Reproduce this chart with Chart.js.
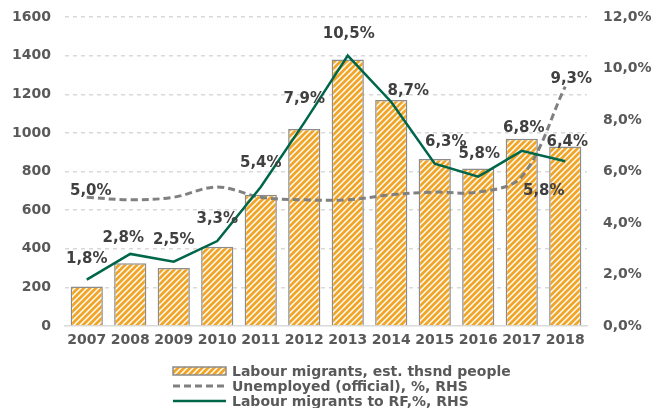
<!DOCTYPE html>
<html>
<head>
    <title>Labour migration</title>
    <script src="https://cdn.jsdelivr.net/npm/chart.js@4.4.1/dist/chart.umd.min.js"></script>
    <style>
        html, body { margin: 0; padding: 0; background: #fff; }
        .wrap { width: 666px; height: 408px; }
    </style>
</head>
<body>
    <div class="wrap"><canvas id="migrants"></canvas></div>

    <script>
        const years = ['2007', '2008', '2009', '2010', '2011', '2012', '2013', '2014', '2015', '2016', '2017', '2018'];
        // thousand people, left axis
        const migrants = [205, 325, 300, 410, 680, 1020, 1380, 1170, 865, 815, 970, 930];
        // percent, right axis
        const unemployed = [5.0, 4.9, 5.0, 5.4, 5.0, 4.9, 4.9, 5.1, 5.2, 5.2, 5.8, 9.3];
        const migrantsRF = [1.8, 2.8, 2.5, 3.3, 5.4, 7.9, 10.5, 8.7, 6.3, 5.8, 6.8, 6.4];
        // only these points of the unemployment line carry a label
        const unemployedLabelled = [0, 10, 11];

        const FONT = "'DejaVu Sans', Verdana, sans-serif";
        const pct = v => v.toFixed(1).replace('.', ',') + '%';

        // orange / white diagonal hatch for the bars
        function hatch() {
            const c = document.createElement('canvas');
            c.width = 6; c.height = 6;
            const g = c.getContext('2d');
            g.fillStyle = '#ffffff';
            g.fillRect(0, 0, 6, 6);
            g.strokeStyle = '#f0a527';
            g.lineWidth = 2.8;
            g.beginPath();
            g.moveTo(-3, 3); g.lineTo(3, -3);
            g.moveTo(0, 6); g.lineTo(6, 0);
            g.moveTo(3, 9); g.lineTo(9, 3);
            g.stroke();
            return g.createPattern(c, 'repeat');
        }

        // label offsets (dx, dy) from the point, per dataset
        const labelShift = {
            1: { 0: [4, -6], 10: [22, 14], 11: [6, -7] },
            2: [[0, -21], [-7, -16], [0, -22], [0, -22], [0, -24], [0, -23],
                [1, -22], [17, -11], [11, -22], [1, -23], [2, -23], [2, -19]]
        };

        const valueLabels = {
            id: 'valueLabels',
            afterDatasetsDraw(chart) {
                const ctx = chart.ctx;
                ctx.save();
                ctx.font = 'bold 15px ' + FONT;
                ctx.fillStyle = '#404040';
                ctx.textAlign = 'center';
                ctx.textBaseline = 'middle';
                [1, 2].forEach(di => {
                    const meta = chart.getDatasetMeta(di);
                    const data = chart.data.datasets[di].data;
                    const idx = di === 1 ? unemployedLabelled : data.map((_, i) => i);
                    idx.forEach(i => {
                        const p = meta.data[i];
                        const s = labelShift[di][i];
                        ctx.fillText(pct(data[i]), p.x + s[0], p.y + s[1]);
                    });
                });
                ctx.restore();
            }
        };

        // stacked legend block under the axis
        const blockLegend = {
            id: 'blockLegend',
            afterDraw(chart) {
                const ctx = chart.ctx;
                const x0 = 173, w = 53, tx = 232;
                const rows = [371, 386, 401];
                ctx.save();
                ctx.font = 'bold 14px ' + FONT;
                ctx.textBaseline = 'middle';
                chart.data.datasets.forEach((ds, i) => {
                    const y = rows[i];
                    if (ds.type === 'bar') {
                        ctx.fillStyle = ds.backgroundColor;
                        ctx.fillRect(x0, y - 4, w, 8);
                        ctx.strokeStyle = ds.borderColor;
                        ctx.lineWidth = 1.5;
                        ctx.strokeRect(x0, y - 4, w, 8);
                    } else {
                        ctx.strokeStyle = ds.borderColor;
                        ctx.lineWidth = ds.borderWidth;
                        ctx.setLineDash(ds.borderDash || []);
                        ctx.beginPath();
                        ctx.moveTo(x0, y);
                        ctx.lineTo(x0 + w, y);
                        ctx.stroke();
                        ctx.setLineDash([]);
                    }
                    ctx.fillStyle = '#595959';
                    ctx.fillText(ds.label, tx, y + 1);
                });
                ctx.restore();
            }
        };

        const tickFont = { family: FONT, size: 14, weight: 'bold' };
        // fixed axis sizes, no extra room for label overhang
        const fixWidth = w => s => { s.width = w; s.paddingTop = 0; s.paddingBottom = 0; };

        new Chart(document.getElementById('migrants'), {
            data: {
                labels: years,
                datasets: [{
                    type: 'bar',
                    label: 'Labour migrants, est. thsnd people',
                    data: migrants,
                    backgroundColor: hatch(),
                    borderColor: '#8c8c8c',
                    borderWidth: 1.5,
                    barPercentage: 0.74,
                    categoryPercentage: 1,
                    yAxisID: 'y',
                    order: 3
                }, {
                    type: 'line',
                    label: 'Unemployed (official), %, RHS',
                    data: unemployed,
                    borderColor: '#808080',
                    borderWidth: 3,
                    borderDash: [7, 4],
                    tension: 0.35,
                    pointRadius: 0,
                    yAxisID: 'y1',
                    order: 2
                }, {
                    type: 'line',
                    label: 'Labour migrants to RF,%, RHS',
                    data: migrantsRF,
                    borderColor: '#00664a',
                    borderWidth: 2.5,
                    tension: 0,
                    pointRadius: 0,
                    yAxisID: 'y1',
                    order: 1
                }]
            },
            options: {
                responsive: true,
                maintainAspectRatio: false,
                animation: false,
                layout: { padding: { top: 17, left: 12, right: 10, bottom: 52 } },
                plugins: {
                    legend: { display: false },
                    tooltip: { enabled: false }
                },
                scales: {
                    x: {
                        afterFit: s => { s.height = 30; },
                        grid: { display: false, drawTicks: false },
                        border: { display: true, color: '#d9d9d9', width: 1.5 },
                        ticks: { color: '#595959', padding: 6, maxRotation: 0, autoSkip: false, font: tickFont }
                    },
                    y: {
                        position: 'left',
                        min: 0,
                        max: 1600,
                        afterFit: fixWidth(53),
                        ticks: { stepSize: 200, color: '#595959', padding: 14, font: tickFont, callback: v => String(v) },
                        grid: {
                            drawTicks: false,
                            color: c => c.tick && c.tick.value === 0 ? 'rgba(0,0,0,0)' : '#d9d9d9',
                            lineWidth: 1.5
                        },
                        border: { display: false, dash: [4, 4] }
                    },
                    y1: {
                        position: 'right',
                        min: 0,
                        max: 12,
                        afterFit: fixWidth(69),
                        ticks: { stepSize: 2, color: '#595959', padding: 16, font: tickFont, callback: v => pct(v) },
                        grid: { display: false, drawTicks: false },
                        border: { display: false }
                    }
                }
            },
            plugins: [valueLabels, blockLegend]
        });
    </script>
</body>
</html>
